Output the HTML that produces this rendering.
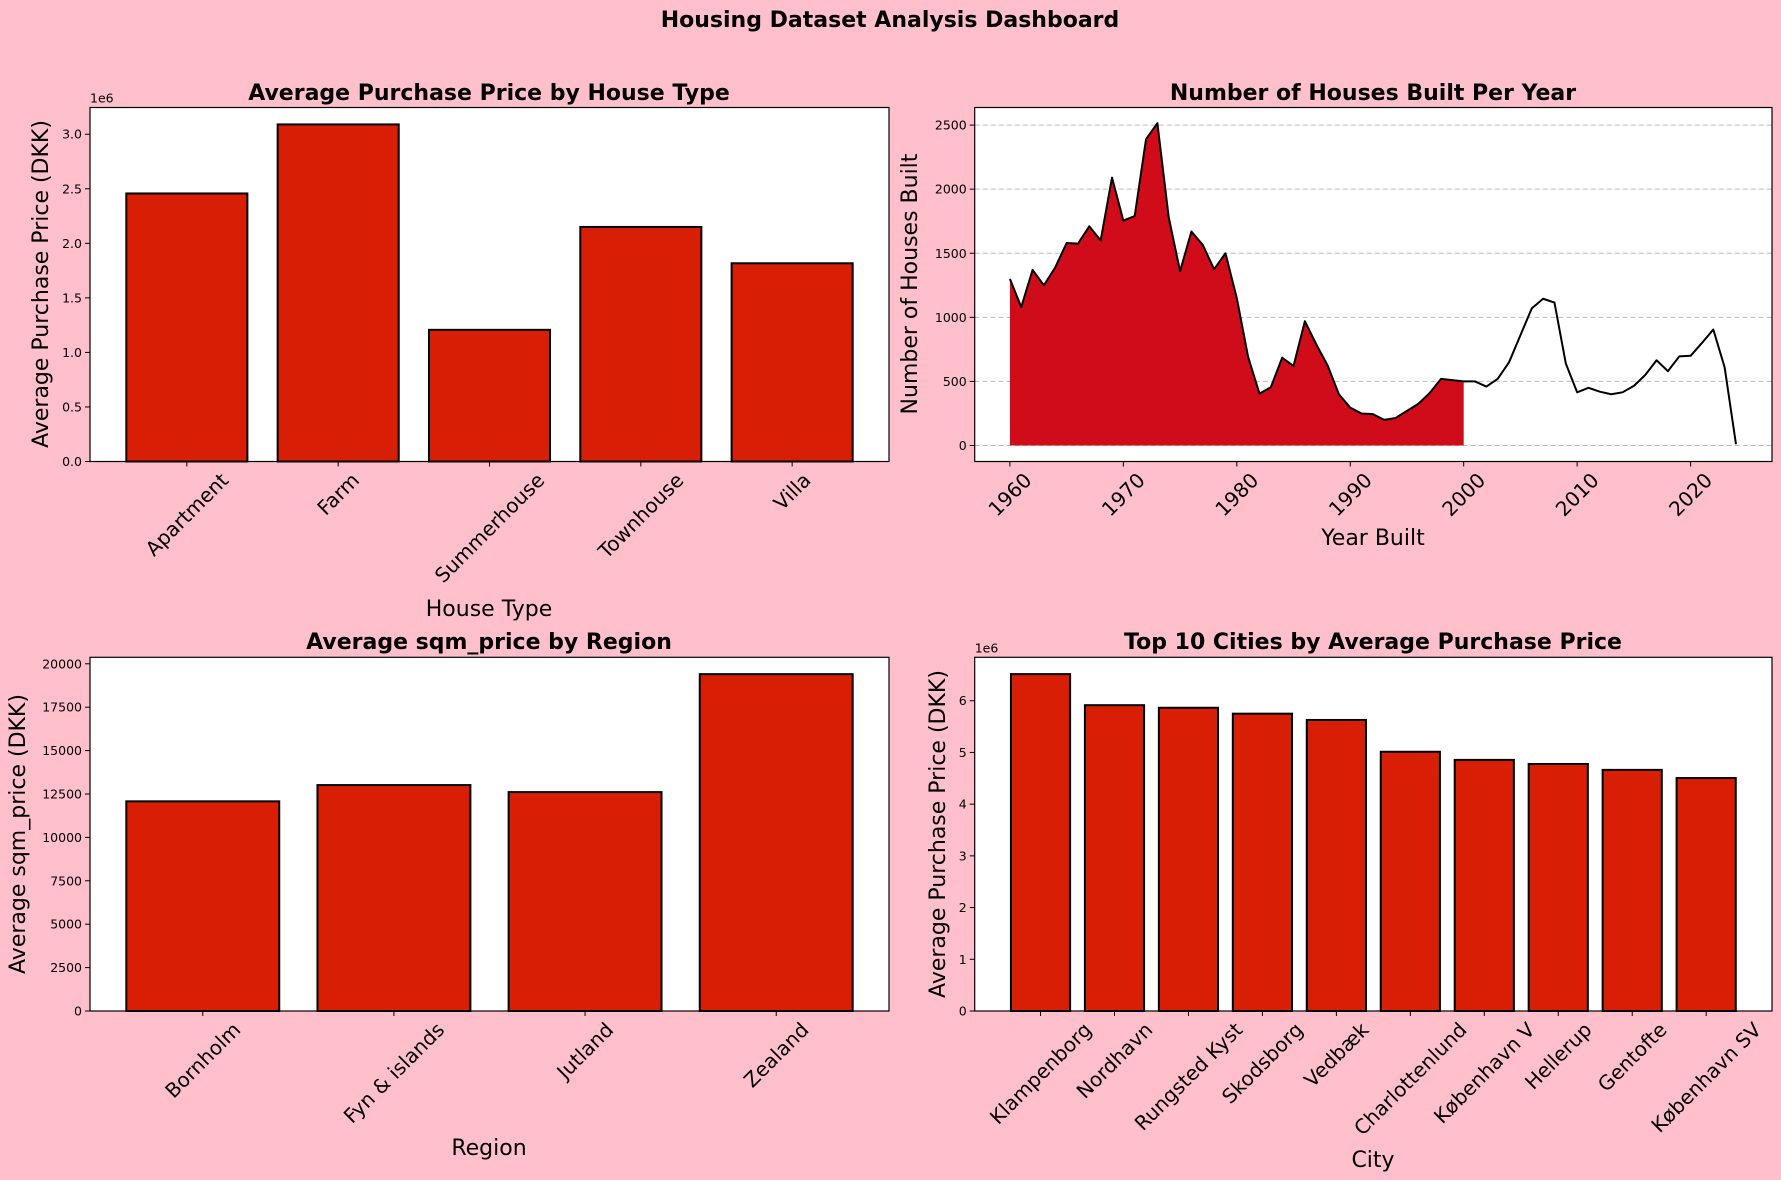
<!DOCTYPE html>
<html><head><meta charset="utf-8">
<style>
html,body{margin:0;padding:0;background:#ffc0cb;}
svg{display:block;font-family:"DejaVu Sans","Liberation Sans",sans-serif;}
</style></head>
<body>
<svg id="fig" width="1781" height="1180" viewBox="0 0 1781 1180" xmlns="http://www.w3.org/2000/svg">
<rect x="0" y="0" width="1781" height="1180" fill="#ffc0cb"/>
<text x="890" y="27" text-anchor="middle" font-size="22" font-weight="bold">Housing Dataset Analysis Dashboard</text>
</svg>
<script>
// Chart 1: purchase price by house type (millions DKK)
const houseTypes = ["Apartment","Farm","Summerhouse","Townhouse","Villa"];
const housePrices = [2.457, 3.09, 1.207, 2.15, 1.817];
const houseTicks = [0, 0.5, 1.0, 1.5, 2.0, 2.5, 3.0];
// Chart 2: houses built per year
const years = [1960,1961,1962,1963,1964,1965,1966,1967,1968,1969,1970,1971,1972,1973,1974,1975,1976,1977,1978,1979,1980,1981,1982,1983,1984,1985,1986,1987,1988,1989,1990,1991,1992,1993,1994,1995,1996,1997,1998,1999,2000,2001,2002,2003,2004,2005,2006,2007,2008,2009,2010,2011,2012,2013,2014,2015,2016,2017,2018,2019,2020,2021,2022,2023,2024];
const housesBuilt = [1300,1080,1370,1250,1390,1580,1575,1710,1600,2090,1755,1790,2390,2515,1780,1360,1670,1565,1375,1500,1150,690,405,455,685,620,970,790,625,400,295,250,245,200,215,270,325,410,520,510,500,500,460,520,650,860,1070,1145,1115,640,415,450,420,400,415,465,550,665,580,695,700,800,905,610,10];
const fillEndYear = 2000;
const yearTicks = [1960,1970,1980,1990,2000,2010,2020];
const builtTicks = [0,500,1000,1500,2000,2500];
// Chart 3: sqm price by region
const regions = ["Bornholm","Fyn & islands","Jutland","Zealand"];
const sqmPrices = [12077, 13014, 12609, 19404];
const sqmTicks = [0,2500,5000,7500,10000,12500,15000,17500,20000];
// Chart 4: top 10 cities (millions DKK)
const cities = ["Klampenborg","Nordhavn","Rungsted Kyst","Skodsborg","Vedbæk","Charlottenlund","København V","Hellerup","Gentofte","København SV"];
const cityPrices = [6.515, 5.914, 5.864, 5.75, 5.628, 5.013, 4.856, 4.777, 4.663, 4.505];
const cityTicks = [0,1,2,3,4,5,6];

const NS = "http://www.w3.org/2000/svg";
const fig = document.getElementById('fig');
function mk(tag, attrs, parent, text){
  const e = document.createElementNS(NS, tag);
  for (const k in attrs) e.setAttribute(k, attrs[k]);
  if (text !== undefined) e.textContent = text;
  (parent||fig).appendChild(e);
  return e;
}
function linear(d0,d1,r0,r1){ return v => r0 + (v-d0)/(d1-d0)*(r1-r0); }

function axesFrame(g, L, T, R, B){
  const bg = mk('rect',{x:L,y:T,width:R-L,height:B-T,fill:'#fff'},g);
  
  
}
function frameBorder(g,L,T,R,B){
  const f = mk('rect',{x:L,y:T,width:R-L,height:B-T,fill:'none',stroke:'#000','stroke-width':1.2},g);
  
  
}
function yAxis(g, ticks, y, L, fmt, grid, R){
  ticks.forEach(t=>{
    const yy = y(t);
    if (grid){
      const gl = mk('line',{x1:L,x2:R,y1:yy,y2:yy,stroke:'#bbb','stroke-dasharray':'5,3','stroke-width':1},g);
      
      
    }
    mk('line',{x1:L-5,x2:L,y1:yy,y2:yy,stroke:'#000','stroke-width':1},g);
    const tx = mk('text',{x:L-8,y:yy+4.5,'text-anchor':'end','font-size':12.5},g,fmt(t));
    
    
  });
}
function xRotLabels(g, labels, xs, B, size){
  labels.forEach((lab,i)=>{
    const x = xs[i];
    mk('line',{x1:x,x2:x,y1:B,y2:B+5,stroke:'#000','stroke-width':1},g);
    const t = mk('text',{'font-size':size,'text-anchor':'middle'},g,lab);
    
    
    const w = t.getComputedTextLength();
    const h = size*1.0;
    const half = (w+h)*0.7071/2;
    const cy = B + 8 + half;
    t.setAttribute('x', x);
    t.setAttribute('y', cy + size*0.35);
    t.setAttribute('transform',`rotate(-45 ${x} ${cy})`);
  });
}
function titleText(g, x, y, s){
  const t = mk('text',{x:x,y:y,'text-anchor':'middle','font-size':22,'font-weight':'bold'},g,s);
  
  
}
function xTitle(g,x,y,s){
  const t = mk('text',{x:x,y:y,'text-anchor':'middle','font-size':22},g,s);
  
  
}
function yTitle(g,x,y,s){
  const t = mk('text',{x:x,y:y,'text-anchor':'middle','font-size':22,transform:`rotate(-90 ${x} ${y})`},g,s);
  
  
}
function barChart(name, cats, vals, ticks, L,T,R,B, yMax, fmt, offsetLabel, labelSize){
  const g = mk('g',{});
  
  
  axesFrame(g,L,T,R,B);
  const n = cats.length;
  const lo = -0.4 - 0.05*(n-1+0.8), hi = n-1+0.4 + 0.05*(n-1+0.8);
  const x = linear(lo,hi,L,R);
  const y = linear(0,yMax,B,T);
  const xs = cats.map((c,i)=>x(i));
  vals.forEach((v,i)=>{
    const x0 = x(i-0.4), x1 = x(i+0.4);
    const r = mk('rect',{x:x0,y:y(v),width:x1-x0,height:B-y(v),fill:'#d81e05',stroke:'#000','stroke-width':2},g);
    
    
  });
  yAxis(g,ticks,y,L,fmt,false,R);
  frameBorder(g,L,T,R,B);
  if (offsetLabel){
    const o = mk('text',{x:L,y:T-5,'font-size':12.5},g,offsetLabel);
    
    
  }
  xRotLabels(g,cats,xs,B,labelSize);
  return g;
}

// Chart 1
{
  const g = barChart('house-type-chart', houseTypes, housePrices, houseTicks, 90,107.5,889,461.5, 3.245, t=>t.toFixed(1), '1e6', 20);
  titleText(g, 489, 100, 'Average Purchase Price by House Type');
  xTitle(g, 489, 616, 'House Type');
  yTitle(g, 48, 284, 'Average Purchase Price (DKK)');
}
// Chart 3
{
  const g = barChart('region-chart', regions, sqmPrices, sqmTicks, 90,657.3,889,1011, 20374, t=>String(t), null, 20);
  titleText(g, 489, 649, 'Average sqm_price by Region');
  xTitle(g, 489, 1155, 'Region');
  yTitle(g, 25, 834, 'Average sqm_price (DKK)');
}
// Chart 4
{
  const g = barChart('top-cities-chart', cities, cityPrices, cityTicks, 974.7,657.3,1772,1011, 6.84, t=>String(t), '1e6', 20);
  titleText(g, 1373, 649, 'Top 10 Cities by Average Purchase Price');
  xTitle(g, 1373, 1167, 'City');
  yTitle(g, 945, 834, 'Average Purchase Price (DKK)');
}
// Chart 2
{
  const L=974.7,T=107.5,R=1772,B=461.5;
  const g = mk('g',{});
  
  
  axesFrame(g,L,T,R,B);
  const x = linear(1960,2020,1009.9,1690.6);
  const y = linear(0,2500,445.5,125.1);
  yAxis(g,builtTicks,y,L,t=>String(t),true,R);
  let d = `M${x(years[0])},${y(0)}`;
  years.forEach((yr,i)=>{ if (yr<=fillEndYear) d += ` L${x(yr)},${y(housesBuilt[i])}`; });
  d += ` L${x(fillEndYear)},${y(0)} Z`;
  const area = mk('path',{d:d,fill:'#d10c1a'},g);
  
  
  const pts = years.map((yr,i)=>`${x(yr)},${y(housesBuilt[i])}`).join(' ');
  const line = mk('polyline',{points:pts,fill:'none',stroke:'#000','stroke-width':2,'stroke-linejoin':'round'},g);
  
  
  frameBorder(g,L,T,R,B);
  xRotLabels(g, yearTicks.map(String), yearTicks.map(x), B, 20);
  titleText(g, 1373, 100, 'Number of Houses Built Per Year');
  xTitle(g, 1373, 545, 'Year Built');
  yTitle(g, 917, 284, 'Number of Houses Built');
}
</script>
</body></html>
